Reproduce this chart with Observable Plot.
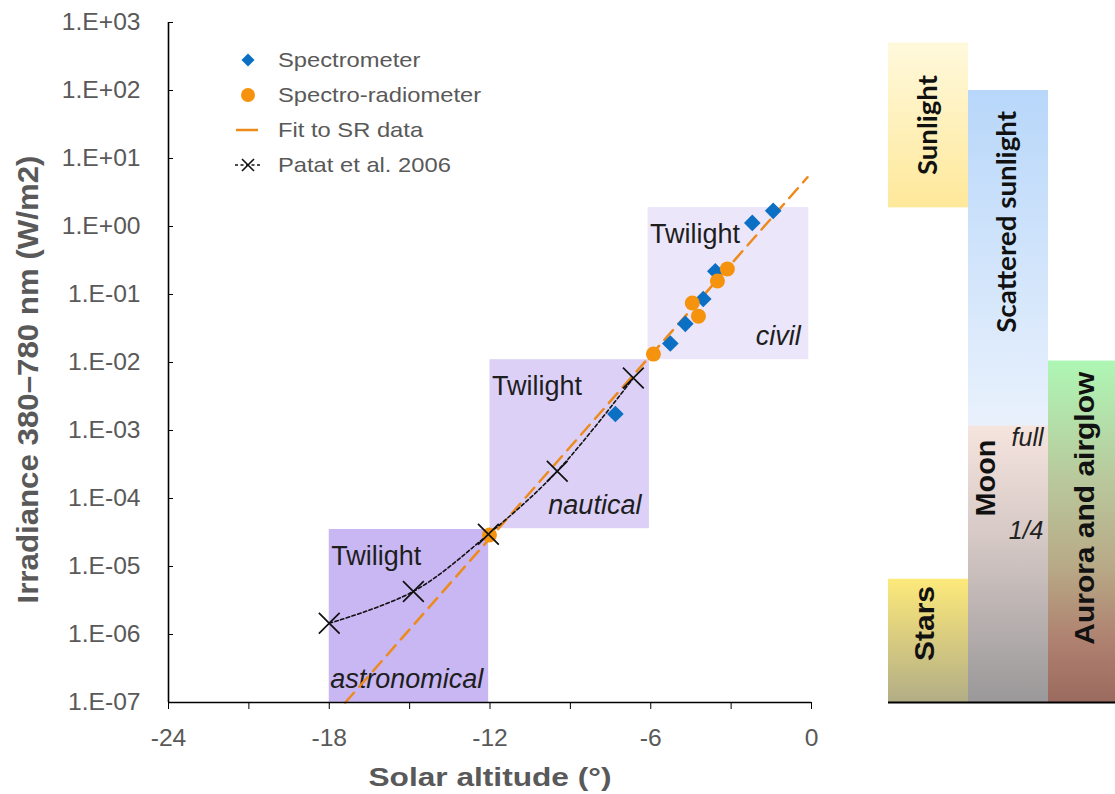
<!DOCTYPE html>
<html><head><meta charset="utf-8">
<script src="https://cdn.jsdelivr.net/npm/d3@7"></script>
<script src="https://cdn.jsdelivr.net/npm/@observablehq/plot@0.6"></script>
<style>
body{margin:0;background:#fff;}
#wrap{position:relative;width:1115px;height:794px;overflow:hidden;font-family:"Liberation Sans",Arial,sans-serif;background:#fff;}
#left,#right{position:absolute;top:0;}
#left{left:0}
#right{left:860px}
#legend{position:absolute;left:230px;top:0;color:#595959;font-size:21px;}
.row{position:absolute;left:0;height:30px;display:flex;align-items:center;white-space:nowrap;}
.row svg{flex:none}
.row span{display:inline-block;margin-left:12px;transform:scaleX(1.13);transform-origin:left center;}
</style></head><body>
<div id="wrap"><div id="left"></div><div id="right"></div><div id="legend"></div></div>
<script>
// ---------- data ----------
const spectrometerAlt = [-1.43, -2.21, -3.59, -4.04, -4.71, -5.27, -7.32];
const spectrometerIrr = [1.70, 1.13, 0.22, 0.086, 0.037, 0.019, 0.00175];

const radiometerAlt = [-3.14, -3.51, -4.45, -4.22, -5.90, -12.02];
const radiometerIrr = [0.238, 0.158, 0.075, 0.048, 0.0133, 2.9e-5];

const fitAlt = [-17.4, -0.15];
const fitIrr = [1e-7, 5.3];

const patatAlt = [-18.0, -14.86, -12.06, -9.49, -6.65];
const patatIrr = [1.46e-6, 4.3e-6, 2.98e-5, 2.52e-4, 5.9e-3];

const twilightNames = ["civil", "nautical", "astronomical"];
const twilightFrom = [-6.1, -12, -18];
const twilightTo = [-0.1, -6.05, -12.05];
const twilightLow = [0.011, 3.6e-5, 1e-7];
const twilightHigh = [1.9, 0.011, 3.5e-5];
const twilightWord = "Twilight";

const panelNames = ["Sunlight", "Scattered sunlight", "Stars", "Moon", "Aurora and airglow"];
const panelCol = [0, 1, 0, 1, 2];
const panelLow = [1.88, 1e-7, 1e-7, 1e-7, 1e-7];
const panelHigh = [500, 100, 6.5e-6, 1.16e-3, 0.0105];
const panelLabelAt = [31, 1.17, 1.45e-6, 2e-4, 7.2e-5];
const moonPhases = ["full", "1/4"];
const moonPhaseAt = [7.8e-4, 3.3e-5];

const xTickValues = [-24, -21, -18, -15, -12, -9, -6, -3, 0];
const xTickLabels = ["-24", "", "-18", "", "-12", "", "-6", "", "0"];
const yTickValues = [1e-7, 1e-6, 1e-5, 1e-4, 1e-3, 1e-2, 1e-1, 1e0, 1e1, 1e2, 1e3];
const yTickLabels = ["1.E-07", "1.E-06", "1.E-05", "1.E-04", "1.E-03", "1.E-02", "1.E-01", "1.E+00", "1.E+01", "1.E+02", "1.E+03"];

const xTitle = "Solar altitude (°)";
const yTitle = "Irradiance 380–780 nm (W/m2)";
const legendLabels = ["Spectrometer", "Spectro-radiometer", "Fit to SR data", "Patat et al. 2006"];

// ---------- styles ----------
const blue = "#0b6fc3";
const orange = "#f5930f";
const fitColor = "#ec8a1c";
const gray = "#595959";
const twilightFill = ["#ece6fb", "#dcd0f7", "#c9b7f3"];
const kindAnchor = ["end", "end", "start"];
const panelFont = ["Lato, 'Open Sans', sans-serif", "Lato, 'Open Sans', sans-serif", "'Liberation Sans', Arial, sans-serif", "'Liberation Sans', Arial, sans-serif", "'Liberation Sans', Arial, sans-serif"];
const panelDx = [0, -1, -3, -22, -3];
const panelGradients = [
  [[0, "#fff9dc"], [1, "#fee89a"]],
  [[0, "#b8d7fa"], [0.55, "#e9f1fc"], [1, "#ffffff"]],
  [[0, "#fde97a"], [1, "#b2ad86"]],
  [[0, "#f6e4de"], [0.4, "#d6c9c6"], [1, "#9a9899"]],
  [[0, "#aef7b5"], [0.35, "#b9c89c"], [0.6, "#b8aa87"], [0.82, "#af8170"], [1, "#9b6a5f"]]
];

// ---------- build rows ----------
const zip = (a, b) => a.map((v, i) => ({alt: v, irr: b[i]}));
const spec = zip(spectrometerAlt, spectrometerIrr);
const sr = zip(radiometerAlt, radiometerIrr);
const fit = zip(fitAlt, fitIrr);
const patat = zip(patatAlt, patatIrr);
const boxes = twilightNames.map((n, i) => ({name: n, x1: twilightFrom[i], x2: twilightTo[i], y1: twilightLow[i], y2: twilightHigh[i]}));
const panel = panelNames.map((n, i) => ({name: n, col: panelCol[i], low: panelLow[i], high: panelHigh[i], at: panelLabelAt[i]}));
const phases = moonPhases.map((p, i) => ({name: p, col: 1, at: moonPhaseAt[i]}));
const xLabelMap = new Map(xTickValues.map((v, i) => [v, xTickLabels[i]]));
const yLabelMap = new Map(yTickValues.map((v, i) => [v, yTickLabels[i]]));

const xDomain = [-24, 0];
const yDomain = [1e-7, 1e3];
const frame = {height: 794, marginTop: 22, marginBottom: 92};
const baseStyle = {fontFamily: "'Liberation Sans', Arial, sans-serif", fontSize: "22px", color: gray, background: "transparent", overflow: "visible"};

// ---------- main chart ----------
const left = Plot.plot({
  width: 840, ...frame, marginLeft: 168, marginRight: 29,
  style: baseStyle,
  x: {type: "linear", domain: xDomain},
  y: {type: "log", domain: yDomain},
  marks: [
    ...boxes.flatMap((b, i) => [
      Plot.rect([b], {x1: "x1", x2: "x2", y1: "y1", y2: "y2", fill: twilightFill[i]}),
      Plot.text([b], {x: "x1", y: "y2", text: () => twilightWord, textAnchor: "start", lineAnchor: "top", dx: 2, dy: 16, fontSize: 27, fill: "#1e1e1e"}),
      Plot.text([b], {x: kindAnchor[i] === "end" ? "x2" : "x1", y: "y1", text: "name", textAnchor: kindAnchor[i], lineAnchor: "bottom", dx: kindAnchor[i] === "end" ? -8 : 1, dy: -15, fontSize: 27, fontStyle: "italic", fill: "#1e1e1e"})
    ]),
    Plot.line(fit, {x: "alt", y: "irr", stroke: fitColor, strokeWidth: 2.5, strokeDasharray: "13,8"}),
    Plot.line(patat, {x: "alt", y: "irr", curve: "catmull-rom", stroke: "#111", strokeWidth: 1.6, strokeDasharray: "3.5,2.5"}),
    Plot.dot(spec, {x: "alt", y: "irr", symbol: "diamond2", r: 7.5, fill: blue, stroke: "none"}),
    Plot.dot(sr, {x: "alt", y: "irr", r: 7.5, fill: orange, stroke: "none"}),
    Plot.dot(patat, {x: "alt", y: "irr", symbol: "times", r: 9.5, stroke: "#111", strokeWidth: 1.7}),
    Plot.ruleX([xDomain[0]], {stroke: "black", strokeWidth: 1.6}),
    Plot.ruleY([yDomain[0]], {stroke: "black", strokeWidth: 1.6}),
    Plot.axisY({ticks: yTickValues, tickFormat: d => yLabelMap.get(d), tickSize: -5, tickPadding: 33, stroke: "black", fill: gray, fontSize: 23, label: null}),
    Plot.axisX({ticks: xTickValues, tickFormat: d => xLabelMap.get(d) ?? "", tickSize: 7, tickPadding: 20, stroke: "black", fill: gray, fontSize: 23, label: null}),
    Plot.text([xTitle], {frameAnchor: "bottom", textAnchor: "middle", lineAnchor: "middle", dy: 75, fontWeight: "bold", fontSize: 26, fill: gray}),
    Plot.text([yTitle], {frameAnchor: "left", textAnchor: "middle", lineAnchor: "middle", dx: -140, dy: 17, rotate: -90, fontWeight: "bold", fontSize: 29, fill: gray})
  ]
});
document.getElementById("left").appendChild(left);

// ---------- side panel ----------
const right = Plot.plot({
  width: 255, ...frame, marginLeft: 28, marginRight: 0,
  style: baseStyle,
  x: {type: "linear", domain: [0, 2.8375], axis: null},
  y: {type: "log", domain: yDomain, axis: null},
  marks: [
    ...panel.map((b, i) => Plot.rect([b], {x1: "col", x2: d => d.col + 1, y1: "low", y2: "high", fill: `url(#pgrad${i})`})),
    Plot.ruleY([yDomain[0]], {stroke: "black", strokeWidth: 2.2}),
    ...panel.map((b, i) => Plot.text([b], {x: d => d.col + 0.5, y: "at", text: "name", rotate: -90, textAnchor: "middle", lineAnchor: "middle", dx: panelDx[i], fontWeight: "bold", fontSize: 27, fontFamily: panelFont[i], fill: "#111"})),
    Plot.text(phases, {x: d => d.col + 1, y: "at", text: "name", textAnchor: "end", lineAnchor: "middle", dx: -5, fontStyle: "italic", fontSize: 25, fill: "#222"})
  ]
});
const defs = d3.select(right).insert("defs", ":first-child");
panelGradients.forEach((stops, i) => {
  const g = defs.append("linearGradient").attr("id", `pgrad${i}`).attr("x1", 0).attr("y1", 0).attr("x2", 0).attr("y2", 1);
  stops.forEach(([o, c]) => g.append("stop").attr("offset", o).attr("stop-color", c));
});
document.getElementById("right").appendChild(right);

// ---------- text fitting ----------
function stretch(sel, k) {
  sel.each(function () {
    const L = this.getComputedTextLength();
    if (L > 0) { this.setAttribute("textLength", (L * k).toFixed(1)); this.setAttribute("lengthAdjust", "spacingAndGlyphs"); }
  });
}
function fitTo(svg, content, length) {
  d3.select(svg).selectAll("text").filter(function () { return this.textContent === content; })
    .attr("textLength", length).attr("lengthAdjust", "spacingAndGlyphs");
}
stretch(d3.select(left).selectAll('g[aria-label="y-axis tick label"] text'), 1.07);
stretch(d3.select(left).selectAll('g[aria-label="x-axis tick label"] text'), 1.07);
fitTo(left, xTitle, 243);
fitTo(left, yTitle, 448);
const panelLengths = [100, 222, 75, 77, 273];
panelNames.forEach((n, i) => fitTo(right, n, panelLengths[i]));

// ---------- legend ----------
const legend = d3.select("#legend");
const swatches = [
  s => s.append("path").attr("d", "M18,8.5L24.5,15L18,21.5L11.5,15Z").attr("fill", blue),
  s => s.append("circle").attr("cx", 18).attr("cy", 15).attr("r", 7).attr("fill", orange),
  s => s.append("line").attr("x1", 6).attr("x2", 28).attr("y1", 15).attr("y2", 15).attr("stroke", fitColor).attr("stroke-width", 2.5),
  s => {
    s.append("line").attr("x1", 5).attr("x2", 32).attr("y1", 15).attr("y2", 15).attr("stroke", "#111").attr("stroke-width", 1.3).attr("stroke-dasharray", "3,2.5");
    s.append("path").attr("d", "M12,9L24,21M24,9L12,21").attr("stroke", "#111").attr("stroke-width", 1.6);
  }
];
legendLabels.forEach((lab, i) => {
  const row = legend.append("div").attr("class", "row").style("top", `${45 + i * 35}px`);
  const s = row.append("svg").attr("width", 36).attr("height", 30);
  swatches[i](s);
  row.append("span").text(lab);
});
</script>
</body></html>
